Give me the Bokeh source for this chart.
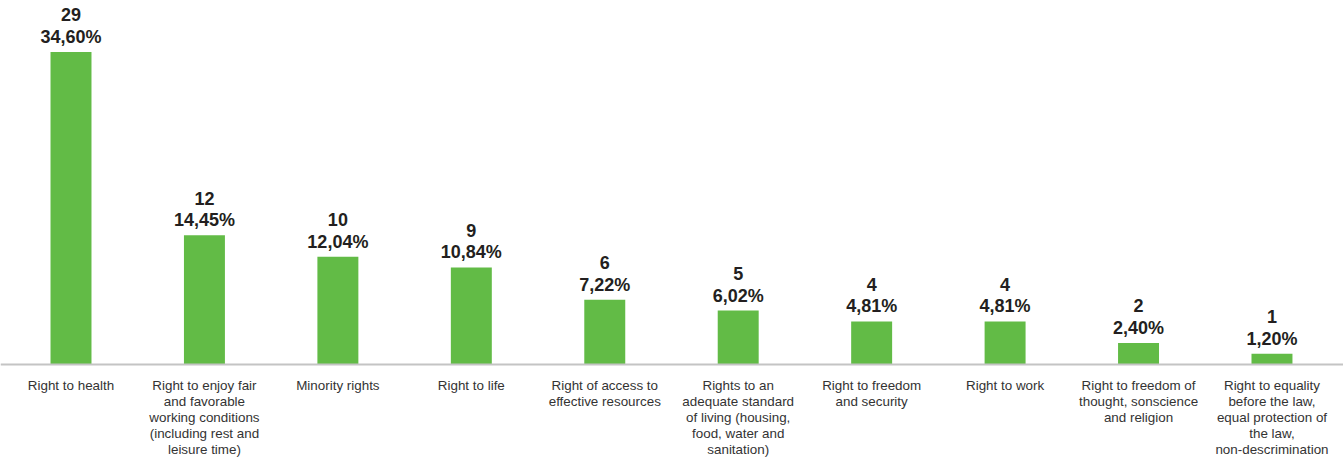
from bokeh.plotting import figure
from bokeh.models import ColumnDataSource, Range1d, Span
from bokeh.core.properties import value
from bokeh.embed import file_html
from bokeh.resources import INLINE

categories = [
    "Right to health",
    "Right to enjoy fair\nand favorable\nworking conditions\n(including rest and\nleisure time)",
    "Minority rights",
    "Right to life",
    "Right of access to\neffective resources",
    "Rights to an\nadequate standard\nof living (housing,\nfood, water and\nsanitation)",
    "Right to freedom\nand security",
    "Right to work",
    "Right to freedom of\nthought, sonscience\nand religion",
    "Right to equality\nbefore the law,\nequal protection of\nthe law,\nnon-descrimination",
]
counts = [29, 12, 10, 9, 6, 5, 4, 4, 2, 1]
percents = ["34,60%", "14,45%", "12,04%", "10,84%", "7,22%", "6,02%", "4,81%", "4,81%", "2,40%", "1,20%"]

xs = list(range(len(categories)))
src = ColumnDataSource(dict(x=xs, top=counts, cat=categories, cnt=[str(c) for c in counts], pct=percents))

W, H = 1343, 458
p = figure(width=W, height=H, output_backend="svg", toolbar_location=None,
           x_range=Range1d(-0.5283, 9.536), y_range=Range1d(-8.72, 33.77),
           min_border=0, min_border_left=0, min_border_right=0, min_border_top=0, min_border_bottom=0)
p.outline_line_color = None
p.xgrid.visible = False
p.ygrid.visible = False
p.xaxis.visible = False
p.yaxis.visible = False
p.background_fill_color = "white"
p.border_fill_color = "white"

p.vbar(x="x", top="top", bottom=0, width=0.307, source=src, fill_color="#62bb46", line_color=None)

p.add_layout(Span(location=0, dimension="width", line_color="#c4c4c4", line_width=2))

p.text(x="x", y="top", text="pct", source=src, text_align="center", text_baseline="alphabetic",
       y_offset=-15, text_font=value("Liberation Sans"), text_font_style="bold",
       text_font_size="18px", text_color="#231f20")
p.text(x="x", y="top", text="cnt", source=src, text_align="center", text_baseline="alphabetic",
       y_offset=-37, text_font=value("Liberation Sans"), text_font_style="bold",
       text_font_size="18px", text_color="#231f20")

p.text(x="x", y=0, text="cat", source=src, text_align="center", text_baseline="top",
       y_offset=13, text_font=value("Liberation Sans"), text_font_size="13.4px",
       text_line_height=1.07, text_color="#333333")

open("out.html", "w").write(file_html(p, INLINE))
